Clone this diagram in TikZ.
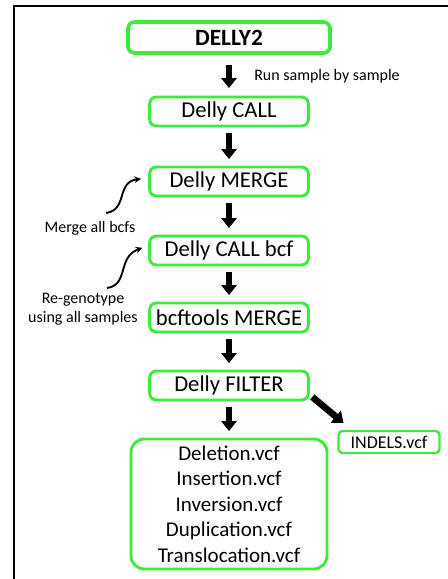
\documentclass[tikz,border=0pt]{standalone}
\usepackage{fontspec}
\setmainfont{Carlito}
\usepackage{tikz}
\usetikzlibrary{arrows.meta,positioning,calc}
\definecolor{boxgreen}{RGB}{60,235,60}
\tikzset{
	stagebox/.style={rectangle, draw=boxgreen, line width=2.2pt, rounded corners=5pt,
		minimum width=119pt, minimum height=21.75pt, align=center, inner sep=2pt, outer sep=0pt,
		font=\fontsize{17}{19}\selectfont},
	blkarr/.style={-{Triangle[width=11.5pt,length=7.5pt]}, line width=4.6pt,
		shorten <=5.5pt, shorten >=6pt},
	notearr/.style={-{Stealth[length=5pt,width=5pt]}, line width=1.4pt},
	notetext/.style={align=center, inner sep=0pt, font=\fontsize{12}{14.25}\selectfont}
}
\begin{document}
\begin{tikzpicture}[x=0.75pt,y=0.75pt,node distance=30pt]
			\useasboundingbox (0,0) rectangle (447,-579);
			\draw[line width=2pt] (14,-579) -- (14,-6) -- (450,-6);
			% main chain
			\node[stagebox, minimum width=151.5pt, minimum height=23.25pt, line width=2.8pt,
				font=\fontsize{17.5}{19}\selectfont\bfseries] (dl2) at (229,-37.5) {DELLY2};
			\node[stagebox, below=33pt of dl2] (call) {Delly CALL};
			\node[stagebox, below=30.75pt of call] (mrg) {Delly MERGE};
			\node[stagebox, below=30pt of mrg] (cbcf) {Delly CALL bcf};
			\node[stagebox, below=28.5pt of cbcf] (bmrg) {bcftools MERGE};
			\node[stagebox, below=29.25pt of bmrg] (flt) {Delly FILTER};
			\node[stagebox, below=29.25pt of flt, minimum width=147pt, minimum height=97.5pt,
				rounded corners=10pt, font=\fontsize{15.75}{19.1}\selectfont] (outv)
				{Deletion.vcf\\Insertion.vcf\\Inversion.vcf\\Duplication.vcf\\Translocation.vcf};
			\node[stagebox, line width=1.8pt, rounded corners=3pt, minimum width=75.75pt,
				minimum height=16.5pt, font=\fontsize{13.5}{15}\selectfont] (ind) at (389,-442) {INDELS.vcf};
			\draw[blkarr, shorten <=9pt, shorten >=6.75pt] (dl2) -- (call);
			\draw[blkarr] (call) -- (mrg);
			\draw[blkarr] (mrg) -- (cbcf);
			\draw[blkarr] (cbcf) -- (bmrg);
			\draw[blkarr] (bmrg) -- (flt);
			\draw[blkarr] (flt) -- (outv);
			\draw[blkarr, line width=5pt, shorten <=0pt, shorten >=0pt]
				([xshift=3pt,yshift=2.25pt]flt.south east) -- ([xshift=3.75pt,yshift=6pt]ind.north west);
			% side notes
			\node[notetext, anchor=west] (runlab) at (254,-76) {Run sample by sample};
			\node[notetext] (mlab) at (90,-228) {Merge all bcfs};
			\node[notetext] (glab) at (83,-309) {Re-genotype\\using all samples};
			\coordinate (m0) at (106,-213);
			\coordinate (g0) at (107,-288);
			\draw[notearr] (m0) .. controls (128,-210) and (116,-182) .. ([xshift=-6.5pt,yshift=2pt]mrg.west);
			\draw[notearr] (g0) .. controls (129,-285) and (117,-257) .. ([xshift=-5.5pt,yshift=2pt]cbcf.west);
		\end{tikzpicture}
\end{document}
